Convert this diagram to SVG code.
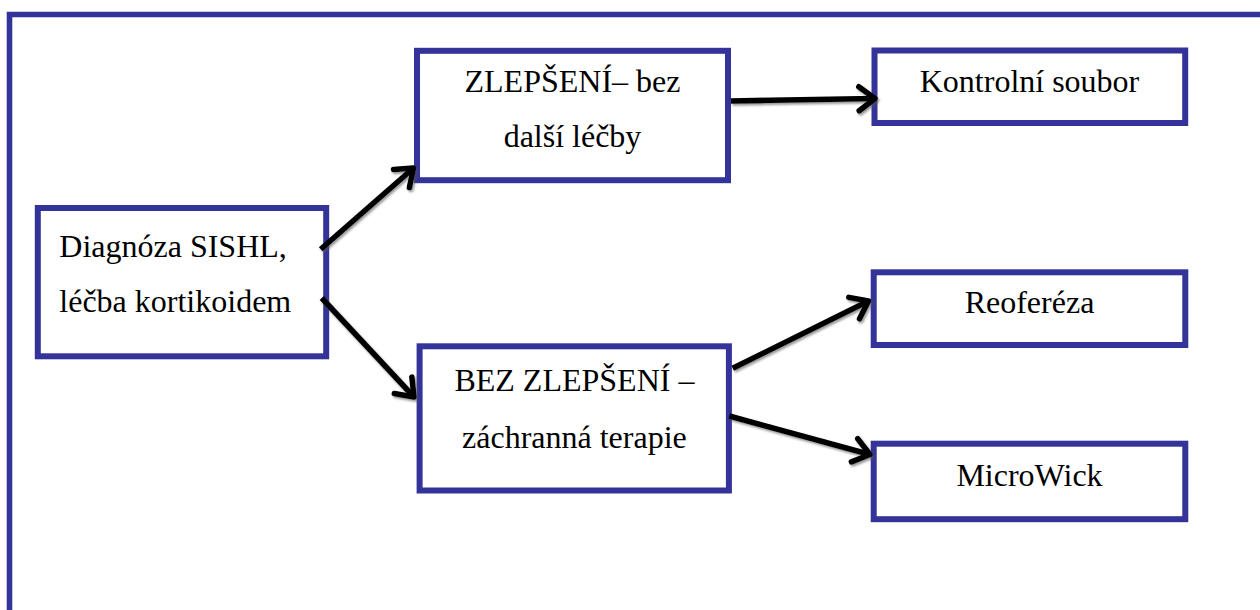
<svg xmlns="http://www.w3.org/2000/svg" width="1260" height="610" viewBox="0 0 1260 610">
<style>
.box{fill:#fff;stroke:#333399;stroke-width:6}
.t{font-family:"Liberation Serif","Times New Roman",serif;font-size:32px;fill:#000}
.c{text-anchor:middle}
.con{fill:none;stroke:#000;stroke-width:5.5}
</style>
<defs>
<marker id="ah" markerUnits="userSpaceOnUse" markerWidth="44" markerHeight="44" viewBox="-22 -22 44 44" refX="0" refY="0" orient="auto">
<path d="M-16,-12 L0,0 L-16,12" fill="none" stroke="#000" stroke-width="5.5" stroke-linecap="round" stroke-linejoin="round"/>
</marker>
<filter id="sh" x="-10%" y="-10%" width="120%" height="120%">
<feDropShadow dx="1.5" dy="2" stdDeviation="1" flood-color="#555" flood-opacity="0.6"/>
</filter>
</defs>
<rect width="1260" height="610" fill="#fff"/>
<path d="M9.5,615 V14.5 H1265" fill="none" stroke="#333399" stroke-width="5.6"/>
<g id="n-diagnoza">
<rect class="box" x="37.8" y="208" width="288.4" height="148.3"/>
<text class="t" x="59.3" y="256.7">Diagnóza SISHL,</text>
<text class="t" x="59.3" y="311.7">léčba kortikoidem</text>
</g>
<g id="n-zlepseni">
<rect class="box" x="417" y="50.8" width="311" height="129.4"/>
<text class="t c" x="572.5" y="91.7">ZLEPŠENÍ– bez</text>
<text class="t c" x="572.5" y="146.7">další léčby</text>
</g>
<g id="n-bez">
<rect class="box" x="419.6" y="346.3" width="309.3" height="144.2"/>
<text class="t c" x="574.4" y="391">BEZ ZLEPŠENÍ –</text>
<text class="t c" x="574.4" y="447.7">záchranná terapie</text>
</g>
<g id="n-kontrolni">
<rect class="box" x="874.5" y="50.5" width="310.7" height="72.5"/>
<text class="t c" x="1029.5" y="91.7">Kontrolní soubor</text>
</g>
<g id="n-reofereza">
<rect class="box" x="873.7" y="272.3" width="311.6" height="72.7"/>
<text class="t c" x="1029.5" y="313.3">Reoferéza</text>
</g>
<g id="n-microwick">
<rect class="box" x="873.7" y="443.7" width="311.6" height="75.5"/>
<text class="t c" x="1029.5" y="485.7">MicroWick</text>
</g>
<g id="connectors" filter="url(#sh)">
<line class="con" x1="320.7" y1="249.3" x2="413.5" y2="168" marker-end="url(#ah)"/>
<line class="con" x1="321.7" y1="298" x2="414" y2="397" marker-end="url(#ah)"/>
<line class="con" x1="731" y1="101" x2="875" y2="98.5" marker-end="url(#ah)"/>
<line class="con" x1="732.7" y1="368.3" x2="868.5" y2="301" marker-end="url(#ah)"/>
<line class="con" x1="729.3" y1="416" x2="870" y2="454.5" marker-end="url(#ah)"/>
</g>
</svg>
